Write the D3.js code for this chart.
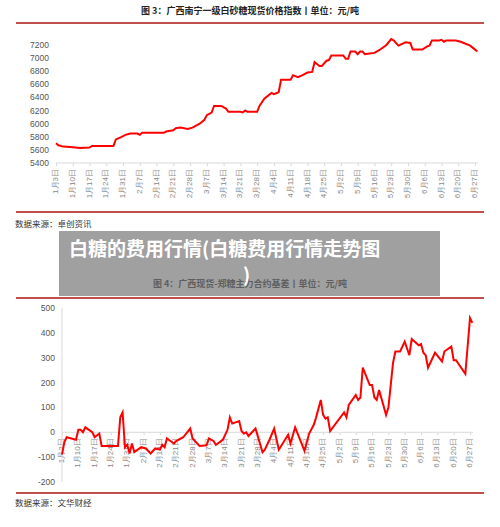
<!DOCTYPE html>
<html>
<head>
<meta charset="UTF-8">
<script src="https://d3js.org/d3.v7.min.js"></script>
<style>
  html, body { margin: 0; padding: 0; background: #fff; }
  svg { display: block; font-family: "Noto Sans CJK SC", sans-serif; }
</style>
</head>
<body>
<svg width="500" height="527"></svg>
<script>
// top chart: Guangxi Nanning sugar spot price index (yuan/ton)
const priceDates = ["01-03","01-04","01-06","01-09","01-13","01-17","01-18","01-27","01-28","01-30","02-01","02-03","02-06","02-07","02-08","02-17","02-18","02-21","02-22","02-24","02-27","03-01","03-04","03-06","03-07","03-09","03-10","03-13","03-15","03-16","03-21","03-22","03-23","03-24","03-28","03-29","03-31","04-03","04-04","04-06","04-07","04-11","04-12","04-14","04-16","04-18","04-20","04-21","04-23","04-24","04-26","04-27","04-28","05-03","05-04","05-05","05-06","05-08","05-09","05-10","05-11","05-12","05-14","05-16","05-18","05-21","05-23","05-24","05-26","05-29","05-31","06-01","06-05","06-07","06-08","06-09","06-12","06-13","06-14","06-15","06-19","06-21","06-25","06-26","06-28"];
const priceValues = [5700,5670,5650,5645,5630,5635,5660,5660,5760,5790,5830,5850,5850,5830,5860,5860,5880,5900,5930,5940,5920,5940,6000,6060,6130,6170,6270,6270,6230,6180,6180,6170,6200,6180,6180,6270,6380,6470,6450,6480,6670,6670,6740,6710,6740,6780,6790,6940,6880,6880,6960,6970,7040,7040,6990,6990,7100,7100,7060,7100,7100,7060,7070,7080,7120,7200,7290,7270,7190,7240,7230,7130,7130,7180,7190,7270,7270,7280,7250,7270,7270,7250,7190,7160,7100];
const priceTicks = [5400,5600,5800,6000,6200,6400,6600,6800,7000,7200];

// bottom chart: Guangxi spot minus Zhengzhou main contract basis
const basisDates = ["01-03","01-04","01-05","01-09","01-10","01-11","01-12","01-13","01-16","01-17","01-19","01-20","01-27","01-28","01-29","01-30","01-31","02-01","02-02","02-03","02-06","02-08","02-10","02-12","02-14","02-15","02-16","02-17","02-20","02-21","02-22","02-24","02-27","02-28","03-03","03-06","03-07","03-09","03-10","03-13","03-15","03-16","03-17","03-20","03-21","03-22","03-23","03-24","03-27","03-30","03-31","04-02","04-04","04-06","04-10","04-11","04-13","04-17","04-19","04-21","04-22","04-24","04-25","04-26","04-27","04-28","05-04","05-05","05-06","05-09","05-10","05-11","05-12","05-15","05-16","05-17","05-18","05-19","05-22","05-23","05-25","05-26","05-28","05-30","06-01","06-02","06-05","06-06","06-07","06-08","06-09","06-12","06-15","06-16","06-19","06-20","06-21","06-25","06-27","06-28"];
const basisValues = [-90,-40,-20,-30,10,10,0,20,0,-20,-5,-55,-55,60,80,-60,-50,-85,-45,-80,-60,-65,-85,-65,-70,-50,-60,-25,-45,-35,-30,-20,15,-25,-55,-52,-25,-35,-50,-30,10,60,35,45,5,-5,0,-15,15,-80,-70,-30,15,-70,-10,-45,20,-75,-5,30,60,130,70,55,60,5,80,60,110,150,130,140,260,190,190,140,130,170,70,100,280,325,325,365,310,375,350,355,320,310,260,320,285,325,345,290,290,235,460,440];
const basisTicks = [-200,-100,0,100,200,300,400,500];

const tickDates = ["01-03","01-10","01-17","01-24","01-31","02-07","02-14","02-21","02-28","03-07","03-14","03-21","03-28","04-04","04-11","04-18","04-25","05-02","05-09","05-16","05-23","05-30","06-06","06-13","06-20","06-27"];

const parse = s => new Date(2022, +s.slice(0, 2) - 1, +s.slice(3));
const fmt = d => (d.getMonth() + 1) + "月" + d.getDate() + "日";
const svg = d3.select("svg");
const ruleColor = "#c0504d";

function titleRule(y1, y2) {
  svg.append("line").attr("x1", 16).attr("x2", 484).attr("y1", y1).attr("y2", y1)
    .attr("stroke", ruleColor).attr("stroke-width", 2);
  svg.append("line").attr("x1", 16).attr("x2", 484).attr("y1", y2).attr("y2", y2)
    .attr("stroke", ruleColor).attr("stroke-width", 2);
}

function drawChart(o) {
  const x = d3.scaleTime().domain([parse("01-03"), parse("06-27")]).range(o.xr);
  const y = d3.scaleLinear().domain(o.yd).range(o.yr);
  const g = svg.append("g");

  // y tick labels
  g.selectAll(".yl").data(o.ticks).join("text")
    .attr("x", o.xr[0] - 7).attr("y", d => y(d) + 3)
    .attr("text-anchor", "end").attr("font-size", 8.5).attr("fill", "#555")
    .attr("font-family", "Liberation Sans, Arial, sans-serif")
    .text(d => d);

  // x axis
  const ay = y(o.axisAt);
  const ax = d3.axisBottom(x).tickValues(tickDates.map(parse)).tickSize(3).tickFormat(fmt);
  const axg = g.append("g").attr("transform", `translate(0,${ay})`).call(ax);
  axg.select(".domain").attr("stroke", "#d9d9d9").attr("d", `M${o.xr[0]},0H${o.xr[1] + 3}`);
  axg.selectAll(".tick line").attr("stroke", "#d9d9d9");
  axg.selectAll(".tick text")
    .attr("transform", "rotate(-90)").attr("text-anchor", "end")
    .attr("x", -6).attr("y", -4).attr("dy", "0.7em")
    .attr("fill", "#888").attr("font-size", 8);

  if (o.yAxisLine) {
    g.append("line").attr("x1", o.xr[0]).attr("x2", o.xr[0])
      .attr("y1", o.yr[1]).attr("y2", o.yr[0]).attr("stroke", "#d9d9d9");
  }

  const line = d3.line().x(d => x(parse(d[0]))).y(d => y(d[1]));
  g.append("path").datum(o.dates.map((d, i) => [d, o.values[i]]))
    .attr("d", line).attr("fill", "none").attr("stroke", "#ff0000").attr("stroke-width", 2);
}

// top chart
svg.append("text").attr("x", 250).attr("y", 14).attr("text-anchor", "middle")
  .attr("font-size", 9).attr("font-weight", "bold").attr("fill", "#222")
  .text("图 3：广西南宁一级白砂糖现货价格指数丨单位：元/吨");
titleRule(23, 212);
drawChart({ dates: priceDates, values: priceValues, ticks: priceTicks,
  xr: [56, 475], yd: [5400, 7200], yr: [163, 45], axisAt: 5400, yAxisLine: false });
svg.append("text").attr("x", 15).attr("y", 227).attr("font-size", 8.5).attr("fill", "#333")
  .text("数据来源：卓创资讯");

// bottom chart
svg.append("text").attr("x", 250).attr("y", 287).attr("text-anchor", "middle")
  .attr("font-size", 9).attr("font-weight", "bold").attr("fill", "#222")
  .text("图 4：广西现货-郑糖主力合约基差丨单位：元/吨");
titleRule(298, 493);
drawChart({ dates: basisDates, values: basisValues, ticks: basisTicks,
  xr: [62, 470], yd: [-200, 500], yr: [482, 308], axisAt: 0, yAxisLine: true });
svg.append("text").attr("x", 15).attr("y", 506).attr("font-size", 8.5).attr("fill", "#333")
  .text("数据来源：文华财经");

// gray overlay caption
svg.append("rect").attr("x", 59).attr("y", 231).attr("width", 381).attr("height", 65)
  .attr("fill", "rgba(120,120,120,0.7)");
svg.append("text").attr("x", 69).attr("y", 256).attr("font-size", 19).attr("font-weight", "bold")
  .attr("fill", "#fff").text("白糖的费用行情(白糖费用行情走势图");
svg.append("text").attr("x", 243).attr("y", 282).attr("font-size", 19).attr("font-weight", "bold")
  .attr("fill", "#fff").text(")");
</script>
</body>
</html>
